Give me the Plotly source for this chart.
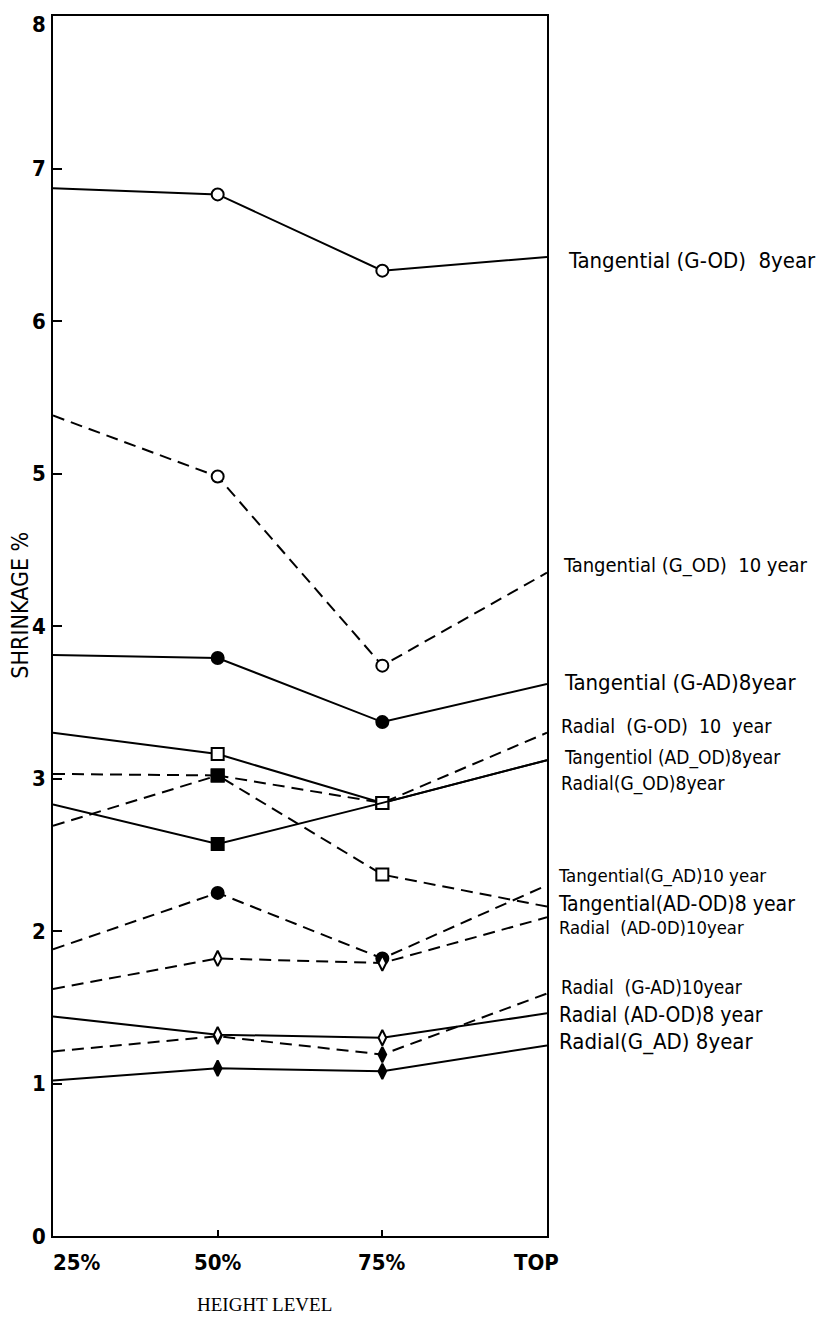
import plotly.graph_objects as go

# ---------------- data ----------------
height_levels = ["25%", "50%", "75%", "TOP"]

series_names = [
    "Tangential (G-OD)  8year",
    "Tangential (G_OD)  10 year",
    "Tangential (G-AD)8year",
    "Radial  (G-OD)  10  year",
    "Tangentiol (AD_OD)8year",
    "Radial(G_OD)8year",
    "Tangential(G_AD)10 year",
    "Tangential(AD-OD)8 year",
    "Radial  (AD-0D)10year",
    "Radial  (G-AD)10year",
    "Radial (AD-OD)8 year",
    "Radial(G_AD) 8year",
]

t_god_8 = [6.87, 6.83, 6.33, 6.42]
t_god_10 = [5.38, 4.98, 3.74, 4.35]
t_gad_8 = [3.81, 3.79, 3.37, 3.62]
r_god_10 = [2.69, 3.02, 2.84, 3.30]
t_adod_8a = [3.30, 3.16, 2.84, 3.12]
r_god_8 = [2.83, 2.57, 2.84, 3.12]
t_gad_10 = [1.88, 2.25, 1.82, 2.30]
t_adod_8b = [3.03, 3.02, 2.37, 2.16]
r_adod_10 = [1.62, 1.82, 1.79, 2.09]
r_gad_10 = [1.21, 1.31, 1.19, 1.59]
r_adod_8 = [1.44, 1.32, 1.30, 1.46]
r_gad_8 = [1.02, 1.10, 1.08, 1.25]

series_values = [t_god_8, t_god_10, t_gad_8, r_god_10, t_adod_8a, r_god_8,
                 t_gad_10, t_adod_8b, r_adod_10, r_gad_10, r_adod_8, r_gad_8]

y_ticks = [0, 1, 2, 3, 4, 5, 6, 7, 8]

# ---------------- styles ----------------
dashed = [False, True, False, True, False, False, True, True, True, True, False, False]
shapes = ["circle", "circle", "circle", "square", "square", "square",
          "circle", "square", "diamond-tall", "diamond-tall", "diamond-tall", "diamond-tall"]
# fill of marker at 50% and 75% ("o" open, "f" filled, None no marker)
fills = [("o", "o"), ("o", "o"), ("f", "f"), ("f", "o"), ("o", "o"), ("f", None),
         ("f", "f"), ("f", "o"), ("o", "o"), ("f", "f"), ("o", "o"), ("f", "f")]
label_y = [6.40, 4.40, 3.63, 3.34, 3.14, 2.97, 2.36, 2.18, 2.02, 1.63, 1.45, 1.27]
label_size = [22, 20, 22, 19.5, 19, 19, 18.5, 21, 18.3, 19, 21, 22]
label_xshift = [19, 14, 15, 12, 15, 12, 9, 9, 10, 12, 10, 10]

LABEL_FONT = "DejaVu Sans Condensed, sans-serif"
TICK_FONT = "DejaVu Sans Condensed, DejaVu Sans, sans-serif"

fig = go.Figure()
xs = list(range(len(height_levels)))

for i in range(len(series_values)):
    vals = series_values[i]
    f50, f75 = fills[i]
    sizes, colors = [], []
    for j in range(len(xs)):
        f = None
        if j == 1:
            f = f50
        elif j == 2:
            f = f75
        if f is None:
            sizes.append(0)
            colors.append("white")
        else:
            base = 11 if shapes[i] == "diamond-tall" else 12
            sizes.append(base)
            colors.append("white" if f == "o" else "black")
    fig.add_trace(go.Scatter(
        x=xs, y=vals, mode="lines+markers", name=series_names[i],
        line=dict(color="black", width=2, dash="12px,7px" if dashed[i] else "solid"),
        marker=dict(symbol=shapes[i], size=sizes, color=colors, opacity=1,
                    line=dict(color="black", width=2)),
        showlegend=False, cliponaxis=False,
    ))

# series labels at the right
for i, name in enumerate(series_names):
    fig.add_annotation(x=3, y=label_y[i], xref="x", yref="y", text=name,
                       showarrow=False, xanchor="left", yanchor="middle",
                       xshift=label_xshift[i],
                       font=dict(family=LABEL_FONT, size=label_size[i], color="black"))

# y tick labels (the top one sits just below the frame so it is not clipped)
top_tick = max(y_ticks)
for v in y_ticks:
    fig.add_annotation(x=0, y=v, xref="x", yref="y", text=str(v),
                       showarrow=False, xanchor="right",
                       yanchor="top" if v == top_tick else "middle",
                       yshift=6 if v == top_tick else 0, xshift=-5,
                       font=dict(family=TICK_FONT, size=22, color="black", weight="bold"))

# x tick labels
x_label_shift = [24, 0, 0, -11]
for j, lab in enumerate(height_levels):
    fig.add_annotation(x=j, y=-0.022, xref="x", yref="paper", text=lab,
                       showarrow=False, xanchor="center", yanchor="middle",
                       xshift=x_label_shift[j],
                       font=dict(family=TICK_FONT, size=22, color="black", weight="bold"))

# axis titles
fig.add_annotation(x=-0.066, y=0.517, xref="paper", yref="paper", text="SHRINKAGE %",
                   textangle=-90, showarrow=False, xanchor="center", yanchor="middle",
                   font=dict(family=TICK_FONT, size=23, color="black"))
fig.add_annotation(x=0.429, y=-0.056, xref="paper", yref="paper", text="HEIGHT LEVEL",
                   showarrow=False, xanchor="center", yanchor="middle",
                   font=dict(family="Liberation Serif, serif", size=19, color="black"))

fig.update_xaxes(range=[0, 3], showline=True, mirror=True, linecolor="black", linewidth=2,
                 tickvals=[1, 2], ticks="inside", ticklen=6, tickwidth=2, tickcolor="black",
                 showticklabels=False, showgrid=False, zeroline=False, automargin=False)
fig.update_yaxes(range=[0, 8], showline=True, mirror=True, linecolor="black", linewidth=2,
                 tickvals=y_ticks, ticks="inside", ticklen=9, tickwidth=2, tickcolor="black",
                 showticklabels=False, showgrid=False, zeroline=False, automargin=False)

# page body adds an 8px offset, so the margins compensate for it
fig.update_layout(width=825, height=1325, margin=dict(l=45, r=286, t=8, b=97, autoexpand=False),
                  plot_bgcolor="white", paper_bgcolor="white")

fig.write_html("out.html")
